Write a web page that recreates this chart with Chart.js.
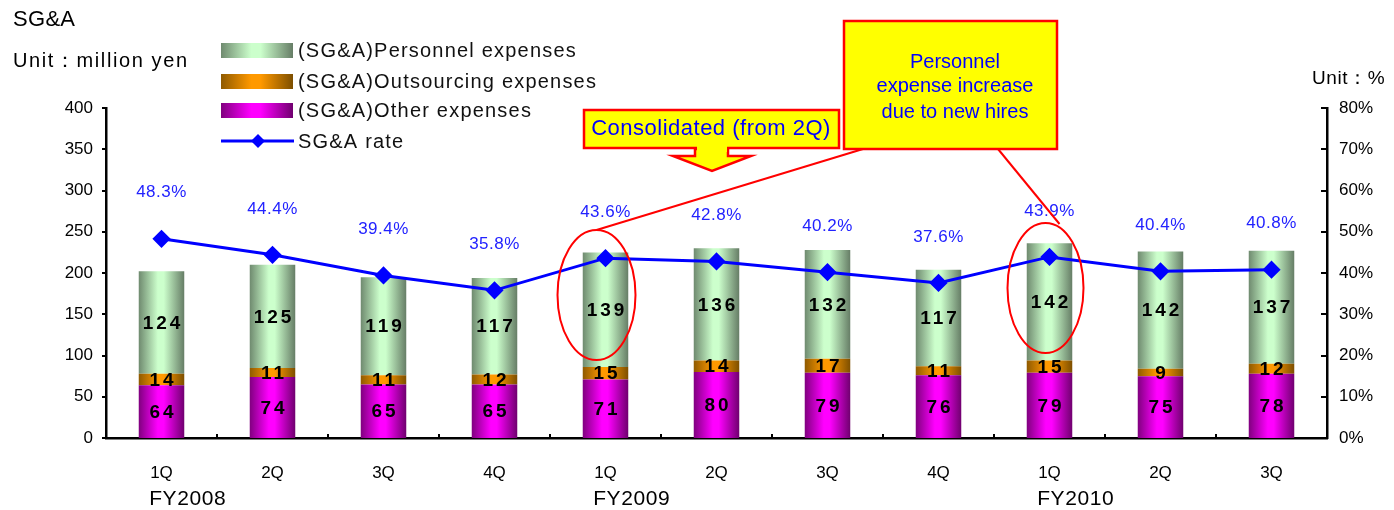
<!DOCTYPE html>
<html>
<head>
<meta charset="utf-8">
<script src="https://cdn.jsdelivr.net/npm/chart.js@4"></script>
<style>
  html, body { margin: 0; padding: 0; background: #fff; }
  #wrap { width: 1394px; height: 510px; position: relative; }
</style>
</head>
<body>
<div id="wrap"><canvas id="sga"></canvas></div>
<script>
// Quartale und Geschäftsjahre
const quarters = ['1Q', '2Q', '3Q', '4Q', '1Q', '2Q', '3Q', '4Q', '1Q', '2Q', '3Q'];
const fiscalYears = [{ at: 0, text: 'FY2008' }, { at: 4, text: 'FY2009' }, { at: 8, text: 'FY2010' }];

// Werte in Mio. Yen
const otherExp = [64, 74, 65, 65, 71, 80, 79, 76, 79, 75, 78];
const outsourcingExp = [14, 11, 11, 12, 15, 14, 17, 11, 15, 9, 12];
const personnelExp = [124, 125, 119, 117, 139, 136, 132, 117, 142, 142, 137];
// SG&A-Quote in %
const sgaRate = [48.3, 44.4, 39.4, 35.8, 43.6, 42.8, 40.2, 37.6, 43.9, 40.4, 40.8];

const leftTicks = [0, 50, 100, 150, 200, 250, 300, 350, 400];
const rightTicks = [0, 10, 20, 30, 40, 50, 60, 70, 80];

const BAR_PCT = 0.41;
const FONT = 'Arial, "Liberation Sans", sans-serif';

// Farbverläufe: Rand dunkel, Mitte hell
const gradPersonnel = ['#6f8a6f', '#ccffcc', '#667d66'];
const gradOutsourcing = ['#8f5a00', '#ff9900', '#7d4f00'];
const gradOther = ['#80007f', '#ff00ff', '#70006f'];

function makeGradient(ctx, x0, x1, stops) {
    const g = ctx.createLinearGradient(x0, 0, x1, 0);
    g.addColorStop(0, stops[0]);
    g.addColorStop(0.42, stops[1]);
    g.addColorStop(0.55, stops[1]);
    g.addColorStop(1, stops[2]);
    return g;
}

function barFill(stops) {
    return (c) => {
        const chart = c.chart;
        const x = chart.scales.x;
        if (!chart.chartArea || !x || c.dataIndex === undefined) return stops[1];
        const bw = (x.width / quarters.length) * BAR_PCT;
        const cx = x.getPixelForValue(c.dataIndex);
        return makeGradient(chart.ctx, cx - bw / 2, cx + bw / 2, stops);
    };
}

function spacing(ctx, px) {
    if ('letterSpacing' in ctx) ctx.letterSpacing = px + 'px';
}

// Ticks, Beschriftungen, Legende und Hinweise
const decorations = {
    id: 'decorations',
    afterDatasetsDraw(chart) {
        const ctx = chart.ctx;
        const x = chart.scales.x, y = chart.scales.y, y1 = chart.scales.y1;
        const area = chart.chartArea;
        ctx.save();

        // Achsen-Ticks
        ctx.strokeStyle = '#000';
        ctx.lineWidth = 2;
        leftTicks.forEach(v => {
            const py = Math.round(y.getPixelForValue(v));
            ctx.beginPath(); ctx.moveTo(area.left - 4, py); ctx.lineTo(area.left, py); ctx.stroke();
        });
        rightTicks.forEach(v => {
            const py = Math.round(y1.getPixelForValue(v));
            ctx.beginPath(); ctx.moveTo(area.right - 6, py); ctx.lineTo(area.right, py); ctx.stroke();
        });
        const cw = x.width / quarters.length;
        for (let i = 1; i < quarters.length; i++) {
            const px = Math.round(area.left + i * cw);
            ctx.beginPath(); ctx.moveTo(px, area.bottom - 4); ctx.lineTo(px, area.bottom + 1); ctx.stroke();
        }

        // Werte in den Balken
        ctx.fillStyle = '#000';
        ctx.font = 'bold 19px ' + FONT;
        ctx.textAlign = 'center';
        ctx.textBaseline = 'middle';
        spacing(ctx, 3);
        [0, 1, 2].forEach(di => {
            const meta = chart.getDatasetMeta(di);
            const vals = chart.data.datasets[di].data;
            meta.data.forEach((bar, i) => {
                const my = (bar.y + bar.base) / 2;
                ctx.fillText(String(vals[i]), bar.x + 1.5, my + 1);
            });
        });

        // Prozentwerte über der Linie
        ctx.fillStyle = '#2222ff';
        ctx.font = '17px ' + FONT;
        spacing(ctx, 0.5);
        const lineMeta = chart.getDatasetMeta(3);
        lineMeta.data.forEach((pt, i) => {
            ctx.fillText(sgaRate[i].toFixed(1) + '%', pt.x, pt.y - 46);
        });

        // Geschäftsjahre unter den Quartalen
        ctx.fillStyle = '#000';
        ctx.textAlign = 'left';
        fiscalYears.forEach(fy => {
            const cx = x.getPixelForValue(fy.at);
            spacing(ctx, 0);
            ctx.font = '17px ' + FONT;
            const w = ctx.measureText(quarters[fy.at]).width;
            ctx.font = '21px ' + FONT;
            spacing(ctx, 0.6);
            ctx.fillText(fy.text, cx - w / 2 - 1, 499);
        });

        // Titel und Einheiten
        spacing(ctx, 0.3);
        ctx.font = '22px ' + FONT;
        ctx.fillText('SG&A', 13, 20);
        ctx.font = '20px ' + FONT;
        spacing(ctx, 1.6);
        ctx.fillText('Unit：million yen', 13, 61);
        ctx.font = '19px ' + FONT;
        spacing(ctx, 0.6);
        ctx.fillText('Unit：%', 1312, 79);

        // Legende
        const legend = [
            { text: '(SG&A)Personnel expenses', grad: gradPersonnel, y: 50 },
            { text: '(SG&A)Outsourcing expenses', grad: gradOutsourcing, y: 81 },
            { text: '(SG&A)Other expenses', grad: gradOther, y: 110 }
        ];
        ctx.font = '20px ' + FONT;
        spacing(ctx, 1.2);
        legend.forEach(l => {
            ctx.fillStyle = makeGradient(ctx, 221, 293, l.grad);
            ctx.fillRect(221, l.y - 7, 72, 15);
            ctx.fillStyle = '#111';
            ctx.fillText(l.text, 298, l.y + 1);
        });
        ctx.strokeStyle = '#0000ff';
        ctx.lineWidth = 3;
        ctx.beginPath(); ctx.moveTo(221, 141); ctx.lineTo(294, 141); ctx.stroke();
        ctx.fillStyle = '#0000ff';
        ctx.beginPath();
        ctx.moveTo(258, 134); ctx.lineTo(265, 141); ctx.lineTo(258, 148); ctx.lineTo(251, 141);
        ctx.closePath(); ctx.fill();
        ctx.fillStyle = '#111';
        ctx.fillText('SG&A rate', 298, 142);

        // Hinweis: Konsolidierung
        ctx.fillStyle = '#ffff00';
        ctx.strokeStyle = '#ff0000';
        ctx.lineWidth = 2.5;
        ctx.fillRect(584, 110, 255, 38);
        ctx.strokeRect(584, 110, 255, 38);
        ctx.beginPath();
        ctx.moveTo(695, 149); ctx.lineTo(695, 156); ctx.lineTo(673, 156);
        ctx.lineTo(712, 171); ctx.lineTo(751, 156); ctx.lineTo(728, 156); ctx.lineTo(728, 149);
        ctx.closePath();
        ctx.fill(); ctx.stroke();
        ctx.fillStyle = '#ffff00';
        ctx.fillRect(697, 146, 30, 6);
        ctx.fillStyle = '#0000ff';
        ctx.font = '22px ' + FONT;
        spacing(ctx, 0.5);
        ctx.textAlign = 'center';
        ctx.fillText('Consolidated (from 2Q)', 711, 129);

        // Hinweis: Personalaufwand
        ctx.fillStyle = '#ffff00';
        ctx.fillRect(844, 21, 213, 128);
        ctx.strokeRect(844, 21, 213, 128);
        ctx.fillStyle = '#0000ff';
        ctx.font = '20px ' + FONT;
        spacing(ctx, 0);
        ctx.fillText('Personnel', 955, 62);
        ctx.fillText('expense increase', 955, 86);
        ctx.fillText('due to new hires', 955, 112);

        // Markierungen um 1Q FY2009 und 1Q FY2010
        ctx.strokeStyle = '#ff0000';
        ctx.lineWidth = 2;
        const e1x = x.getPixelForValue(4) - 9, e2x = x.getPixelForValue(8) - 4;
        ctx.beginPath(); ctx.ellipse(e1x, 295, 39, 65, 0, 0, Math.PI * 2); ctx.stroke();
        ctx.beginPath(); ctx.ellipse(e2x, 288, 38, 65, 0, 0, Math.PI * 2); ctx.stroke();
        ctx.beginPath(); ctx.moveTo(863, 149); ctx.lineTo(e1x, 230); ctx.stroke();
        ctx.beginPath(); ctx.moveTo(998, 149); ctx.lineTo(e2x + 14, 224); ctx.stroke();

        ctx.restore();
    }
};

const chart = new Chart(document.getElementById('sga'), {
    data: {
        labels: quarters,
        datasets: [
            {
                type: 'bar', label: '(SG&A)Other expenses', data: otherExp,
                backgroundColor: barFill(gradOther), yAxisID: 'y', order: 1,
                barPercentage: BAR_PCT, categoryPercentage: 1
            },
            {
                type: 'bar', label: '(SG&A)Outsourcing expenses', data: outsourcingExp,
                backgroundColor: barFill(gradOutsourcing), yAxisID: 'y', order: 1,
                barPercentage: BAR_PCT, categoryPercentage: 1
            },
            {
                type: 'bar', label: '(SG&A)Personnel expenses', data: personnelExp,
                backgroundColor: barFill(gradPersonnel), yAxisID: 'y', order: 1,
                barPercentage: BAR_PCT, categoryPercentage: 1
            },
            {
                type: 'line', label: 'SG&A rate', data: sgaRate, yAxisID: 'y1', order: 0,
                borderColor: '#0000ff', backgroundColor: '#0000ff', borderWidth: 3,
                pointStyle: 'rectRot', pointRadius: 7, pointHoverRadius: 7, tension: 0
            }
        ]
    },
    options: {
        responsive: true,
        maintainAspectRatio: false,
        animation: false,
        layout: { padding: { top: 108, left: 0, right: 0, bottom: 0 } },
        plugins: { legend: { display: false }, tooltip: { enabled: false } },
        scales: {
            x: {
                stacked: true,
                grid: { display: false, drawTicks: false },
                border: { display: true, color: '#000', width: 2.5 },
                ticks: { color: '#000', font: { size: 17, family: FONT }, padding: 25 },
                afterFit: s => { s.height = 72; }
            },
            y: {
                stacked: true, min: 0, max: 400,
                grid: { display: false, drawTicks: false },
                border: { display: true, color: '#000', width: 2.5 },
                ticks: { stepSize: 50, color: '#000', font: { size: 17, family: FONT }, padding: 13 },
                afterFit: s => { s.width = 106; }
            },
            y1: {
                position: 'right', min: 0, max: 80,
                grid: { display: false, drawTicks: false },
                border: { display: true, color: '#000', width: 2.5 },
                ticks: { stepSize: 10, color: '#000', font: { size: 17, family: FONT }, padding: 12,
                    callback: v => v + '%' },
                afterFit: s => { s.width = 67; }
            }
        }
    },
    plugins: [decorations]
});
</script>
</body>
</html>
